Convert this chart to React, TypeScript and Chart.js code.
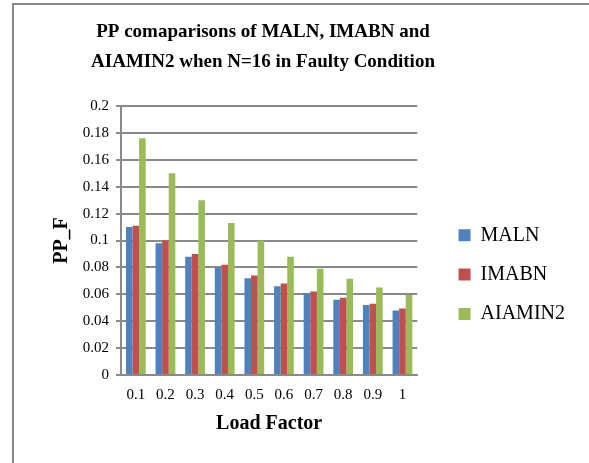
import React, { useEffect, useRef } from "react";
import { Chart, registerables } from "chart.js";

Chart.register(...registerables);

const titleLines = ["PP comaparisons of MALN, IMABN and", "AIAMIN2 when N=16 in Faulty Condition"];
const categories = ["0.1", "0.2", "0.3", "0.4", "0.5", "0.6", "0.7", "0.8", "0.9", "1"];
const malnValues = [0.11, 0.098, 0.088, 0.08, 0.072, 0.066, 0.061, 0.056, 0.052, 0.048];
const imabnValues = [0.111, 0.1, 0.09, 0.082, 0.074, 0.068, 0.062, 0.0575, 0.053, 0.0495];
const aiaminValues = [0.176, 0.15, 0.13, 0.113, 0.1, 0.088, 0.079, 0.0715, 0.065, 0.0595];
const yTickLabels = ["0", "0.02", "0.04", "0.06", "0.08", "0.1", "0.12", "0.14", "0.16", "0.18", "0.2"];
const seriesNames = ["MALN", "IMABN", "AIAMIN2"];
const seriesColors = ["#4F81BD", "#C0504D", "#9BBB59"];
const xTitle = "Load Factor";
const yTitle = "PP_F";

const FONT = "'Liberation Serif', 'Times New Roman', Times, serif";
const GRID = "#8a8a8a";
const TITLE_CENTER_X = 263;
const TITLE_FIRST_Y = 32;
const TITLE_LINE_H = 30;

const titlePlugin = {
  id: "centeredTitle",
  afterDraw(chart: any) {
    const ctx = chart.ctx;
    ctx.save();
    ctx.font = `bold 19px ${FONT}`;
    ctx.fillStyle = "#000";
    ctx.textAlign = "center";
    ctx.textBaseline = "middle";
    titleLines.forEach((t, i) => ctx.fillText(t, TITLE_CENTER_X, TITLE_FIRST_Y + i * TITLE_LINE_H));
    ctx.restore();
  },
};

export default function App() {
  const ref = useRef<HTMLCanvasElement | null>(null);
  useEffect(() => {
    if (!ref.current) return;
    const chart = new Chart(ref.current, {
      type: "bar",
      data: {
        labels: categories,
        datasets: [malnValues, imabnValues, aiaminValues].map((d, i) => ({
          label: seriesNames[i],
          data: d,
          backgroundColor: seriesColors[i],
          borderWidth: 0,
          categoryPercentage: 0.667,
          barPercentage: 1,
        })),
      },
      plugins: [titlePlugin],
      options: {
        responsive: false,
        animation: false,
        layout: { padding: { left: 0, right: 14, top: 0, bottom: 0 } },
        plugins: {
          tooltip: { enabled: false },
          title: {
            display: true,
            text: titleLines,
            fullSize: false,
            color: "rgba(0,0,0,0)",
            font: { family: FONT, size: 19, weight: "bold", lineHeight: 30 / 19 },
            padding: { top: 17, bottom: 29 },
          },
          legend: {
            position: "right",
            align: "start",
            maxWidth: 200,
            title: { display: true, text: " ", font: { size: 10, lineHeight: 1.2 }, padding: { top: 194, bottom: 0 } },
            labels: {
              color: "#000",
              font: { family: FONT, size: 20 },
              boxWidth: 12,
              boxHeight: 12,
              padding: 19.3,
            },
          },
        },
        scales: {
          x: {
            grid: { display: false, drawTicks: false },
            border: { display: true, color: GRID, width: 2 },
            ticks: {
              color: "#000",
              font: { family: FONT, size: 15 },
              padding: 11,
              maxRotation: 0,
              minRotation: 0,
              autoSkip: false,
            },
            title: {
              display: true,
              text: xTitle,
              color: "#000",
              font: { family: FONT, size: 20, weight: "bold", lineHeight: 1.2 },
              padding: { top: -3, bottom: 27 },
            },
          },
          y: {
            min: 0,
            max: 0.2,
            ticks: {
              stepSize: 0.02,
              color: "#000",
              font: { family: FONT, size: 15 },
              padding: 7,
              callback: (_v: any, i: number) => yTickLabels[i],
            },
            grid: { color: GRID, lineWidth: 2, tickLength: 5 },
            border: { display: true, color: GRID, width: 2 },
            title: {
              display: true,
              text: yTitle,
              color: "#000",
              font: { family: FONT, size: 20, weight: "bold", lineHeight: 1.2 },
              padding: { top: 50, bottom: 8 },
            },
            afterFit: (s: any) => {
              s.width = 121;
            },
          },
          yPad: {
            type: "linear",
            position: "right",
            display: true,
            grid: { display: false, drawTicks: false },
            border: { display: false },
            ticks: { display: false },
            afterFit: (s: any) => {
              s.width = 22;
            },
          },
        },
      },
    });
    return () => chart.destroy();
  }, []);

  return (
    <div style={{ position: "fixed", left: 0, top: 0, width: 589, height: 463, overflow: "hidden", background: "#fff" }}>
      <div
        style={{
          position: "absolute",
          left: 12,
          top: 3,
          width: 640,
          height: 520,
          border: "2px solid #878787",
        }}
      />
      <canvas ref={ref} width={589} height={463} style={{ position: "absolute", left: 0, top: 0, width: 589, height: 463 }} />
    </div>
  );
}
